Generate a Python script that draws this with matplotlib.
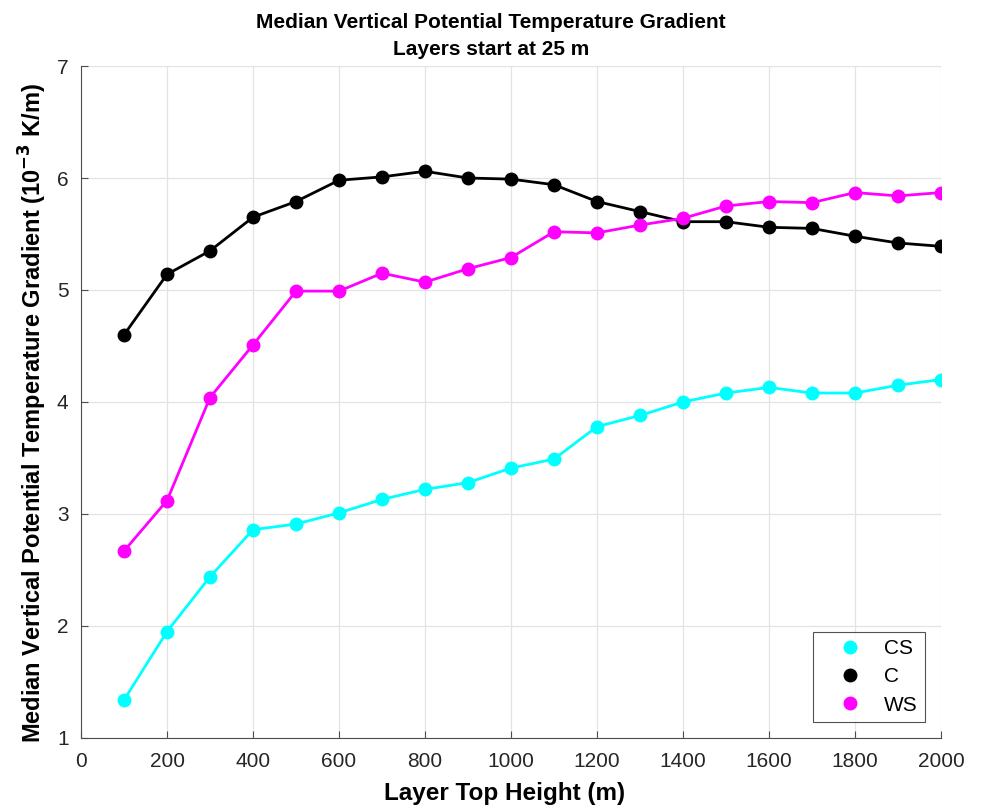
import matplotlib
matplotlib.use("Agg")
import matplotlib.pyplot as plt

plt.rcParams['font.family'] = ['Liberation Sans', 'DejaVu Sans']

heights = [100, 200, 300, 400, 500, 600, 700, 800, 900, 1000,
           1100, 1200, 1300, 1400, 1500, 1600, 1700, 1800, 1900, 2000]
cs = [1.34, 1.95, 2.44, 2.86, 2.91, 3.01, 3.13, 3.22, 3.28, 3.41,
      3.49, 3.78, 3.88, 4.00, 4.08, 4.13, 4.08, 4.08, 4.15, 4.20]
c = [4.60, 5.14, 5.35, 5.65, 5.79, 5.98, 6.01, 6.06, 6.00, 5.99,
     5.94, 5.79, 5.70, 5.61, 5.61, 5.56, 5.55, 5.48, 5.42, 5.39]
ws = [2.67, 3.12, 4.04, 4.51, 4.99, 4.99, 5.15, 5.07, 5.19, 5.29,
      5.52, 5.51, 5.58, 5.64, 5.75, 5.79, 5.78, 5.87, 5.84, 5.87]

fig = plt.figure(figsize=(9.81, 8.09), dpi=100)
ax = fig.add_axes([0.0826, 0.0878, 0.8766, 0.8306])

ax.plot(heights, cs, '-o', color='#00ffff', lw=2, ms=9, label='CS')
ax.plot(heights, c, '-o', color='black', lw=2, ms=9, label='C')
ax.plot(heights, ws, '-o', color='#ff00ff', lw=2, ms=9, label='WS')

ax.set_xlim(0, 2000)
ax.set_ylim(1, 7)
ax.set_xticks(range(0, 2001, 200))
ax.set_yticks(range(1, 8))
ax.grid(True, color='#e3e3e3', lw=0.9)
ax.set_axisbelow(True)
for s in ['top', 'right']:
    ax.spines[s].set_visible(False)
for s in ['left', 'bottom']:
    ax.spines[s].set_color('#4d4d4d')
ax.tick_params(direction='in', length=5, labelsize=15, colors='#4d4d4d', labelcolor='#262626')
ax.tick_params(axis='x', pad=10)
ax.tick_params(axis='y', pad=9)

ax.set_xlabel('Layer Top Height (m)', fontsize=17.5, fontweight='bold')
ax.xaxis.set_label_coords(0.493, -0.066)
ax.set_ylabel('Median Vertical Potential Temperature Gradient (10$^{\\mathbf{-3}}$ K/m)',
              fontsize=17, fontweight='bold')
ax.yaxis.set_label_coords(-0.037, 0.484)
ax.set_title('Median Vertical Potential Temperature Gradient\nLayers start at 25 m',
             fontsize=15, fontweight='bold', pad=8, linespacing=1.5, x=0.477)

leg = ax.legend(loc='lower right', fontsize=15, frameon=True, fancybox=False,
                edgecolor='#262626', borderpad=0.35, handletextpad=0.2, labelspacing=0.45,
                handlelength=2.85, borderaxespad=0, bbox_to_anchor=(0.981, 0.024))
for h in leg.get_lines():
    h.set_linestyle('')
leg.get_frame().set_linewidth(0.8)

fig.savefig('out.png', dpi=100)
